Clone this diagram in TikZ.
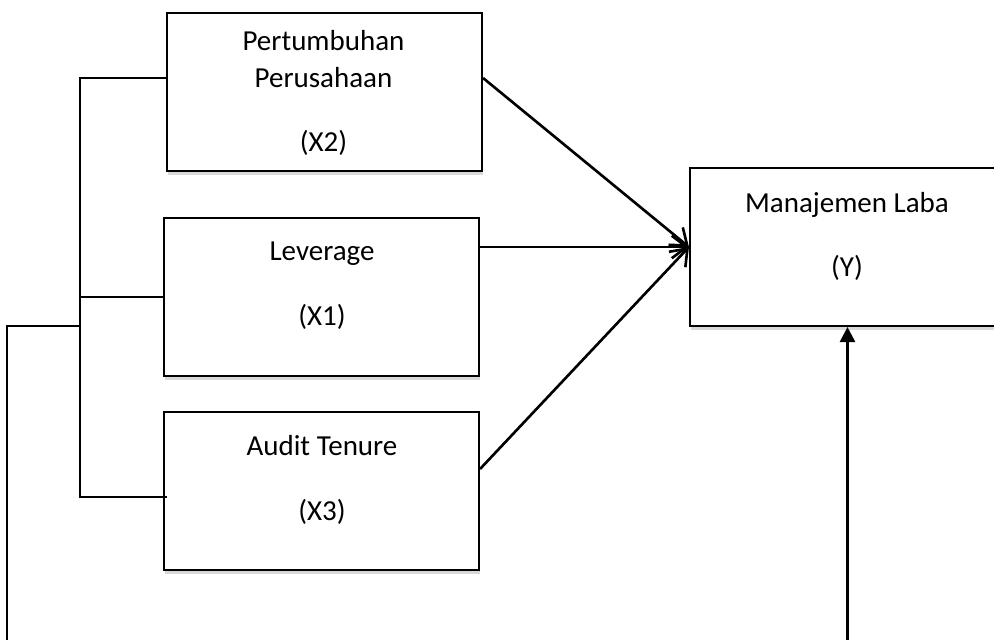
\documentclass[tikz,border=0pt]{standalone}
\usepackage{fontspec}
\setmainfont{Carlito}
\usetikzlibrary{arrows.meta,shadows}
\begin{document}
\begin{tikzpicture}[
	box/.style={draw, line width=1.2pt, fill=white, minimum width=6.3cm, minimum height=3.16cm, inner sep=0pt, drop shadow={shadow xshift=0.8pt, shadow yshift=-2pt, fill=black!30}},
	txt/.style={align=center, font=\fontsize{16.5}{21}\selectfont, inner sep=0pt},
	link/.style={line width=1pt},
	arr/.style={line width=1.5pt, -{Straight Barb[length=3mm, width=4.5mm]}}]
	\useasboundingbox (0,0) rectangle (19.88,-12.8);
	% boxes
	\node[box] (x2) at (6.49,-1.84) {};
	\node[box] (lev) at (6.43,-5.94) {};
	\node[box] (aud) at (6.43,-9.82) {};
	\node[box] (y) at (16.95,-4.94) {};
	\node[txt] (x2text) at (6.47,-1.86) {Pertumbuhan\\Perusahaan\\[15pt](X2)};
	\node[txt] (levtext) at (6.44,-5.71) {Leverage\\[16pt](X1)};
	\node[txt] (audtext) at (6.44,-9.6) {Audit Tenure\\[16pt](X3)};
	\node[txt] (ytext) at (16.94,-4.73) {Manajemen Laba\\[15pt](Y)};
	% bracket on the left
	\coordinate (brbot) at (1.6,-9.94);
	\coordinate (outer) at (0.14,-6.52);
	\coordinate (ybot) at (16.95,-13.2);
	\draw[link] ([yshift=0.28cm]x2.west) -| (brbot) -- ([xshift=0.08cm]aud.west |- brbot);
	\draw[link] (lev.west) -- (lev.west -| brbot);
	\draw[link] (brbot |- outer) -- (outer) |- (ybot);
	% arrows to Y
	\draw[arr] ([yshift=0.28cm]x2.east) -- (y.west);
	\draw[arr] ([yshift=1cm]lev.east) -- (y.west);
	\draw[arr] ([yshift=0.44cm]aud.east) -- (y.west);
	\draw[arr, -{Triangle[length=3mm, width=3mm]}] (ybot) -- (y.south);
\end{tikzpicture}
\end{document}
